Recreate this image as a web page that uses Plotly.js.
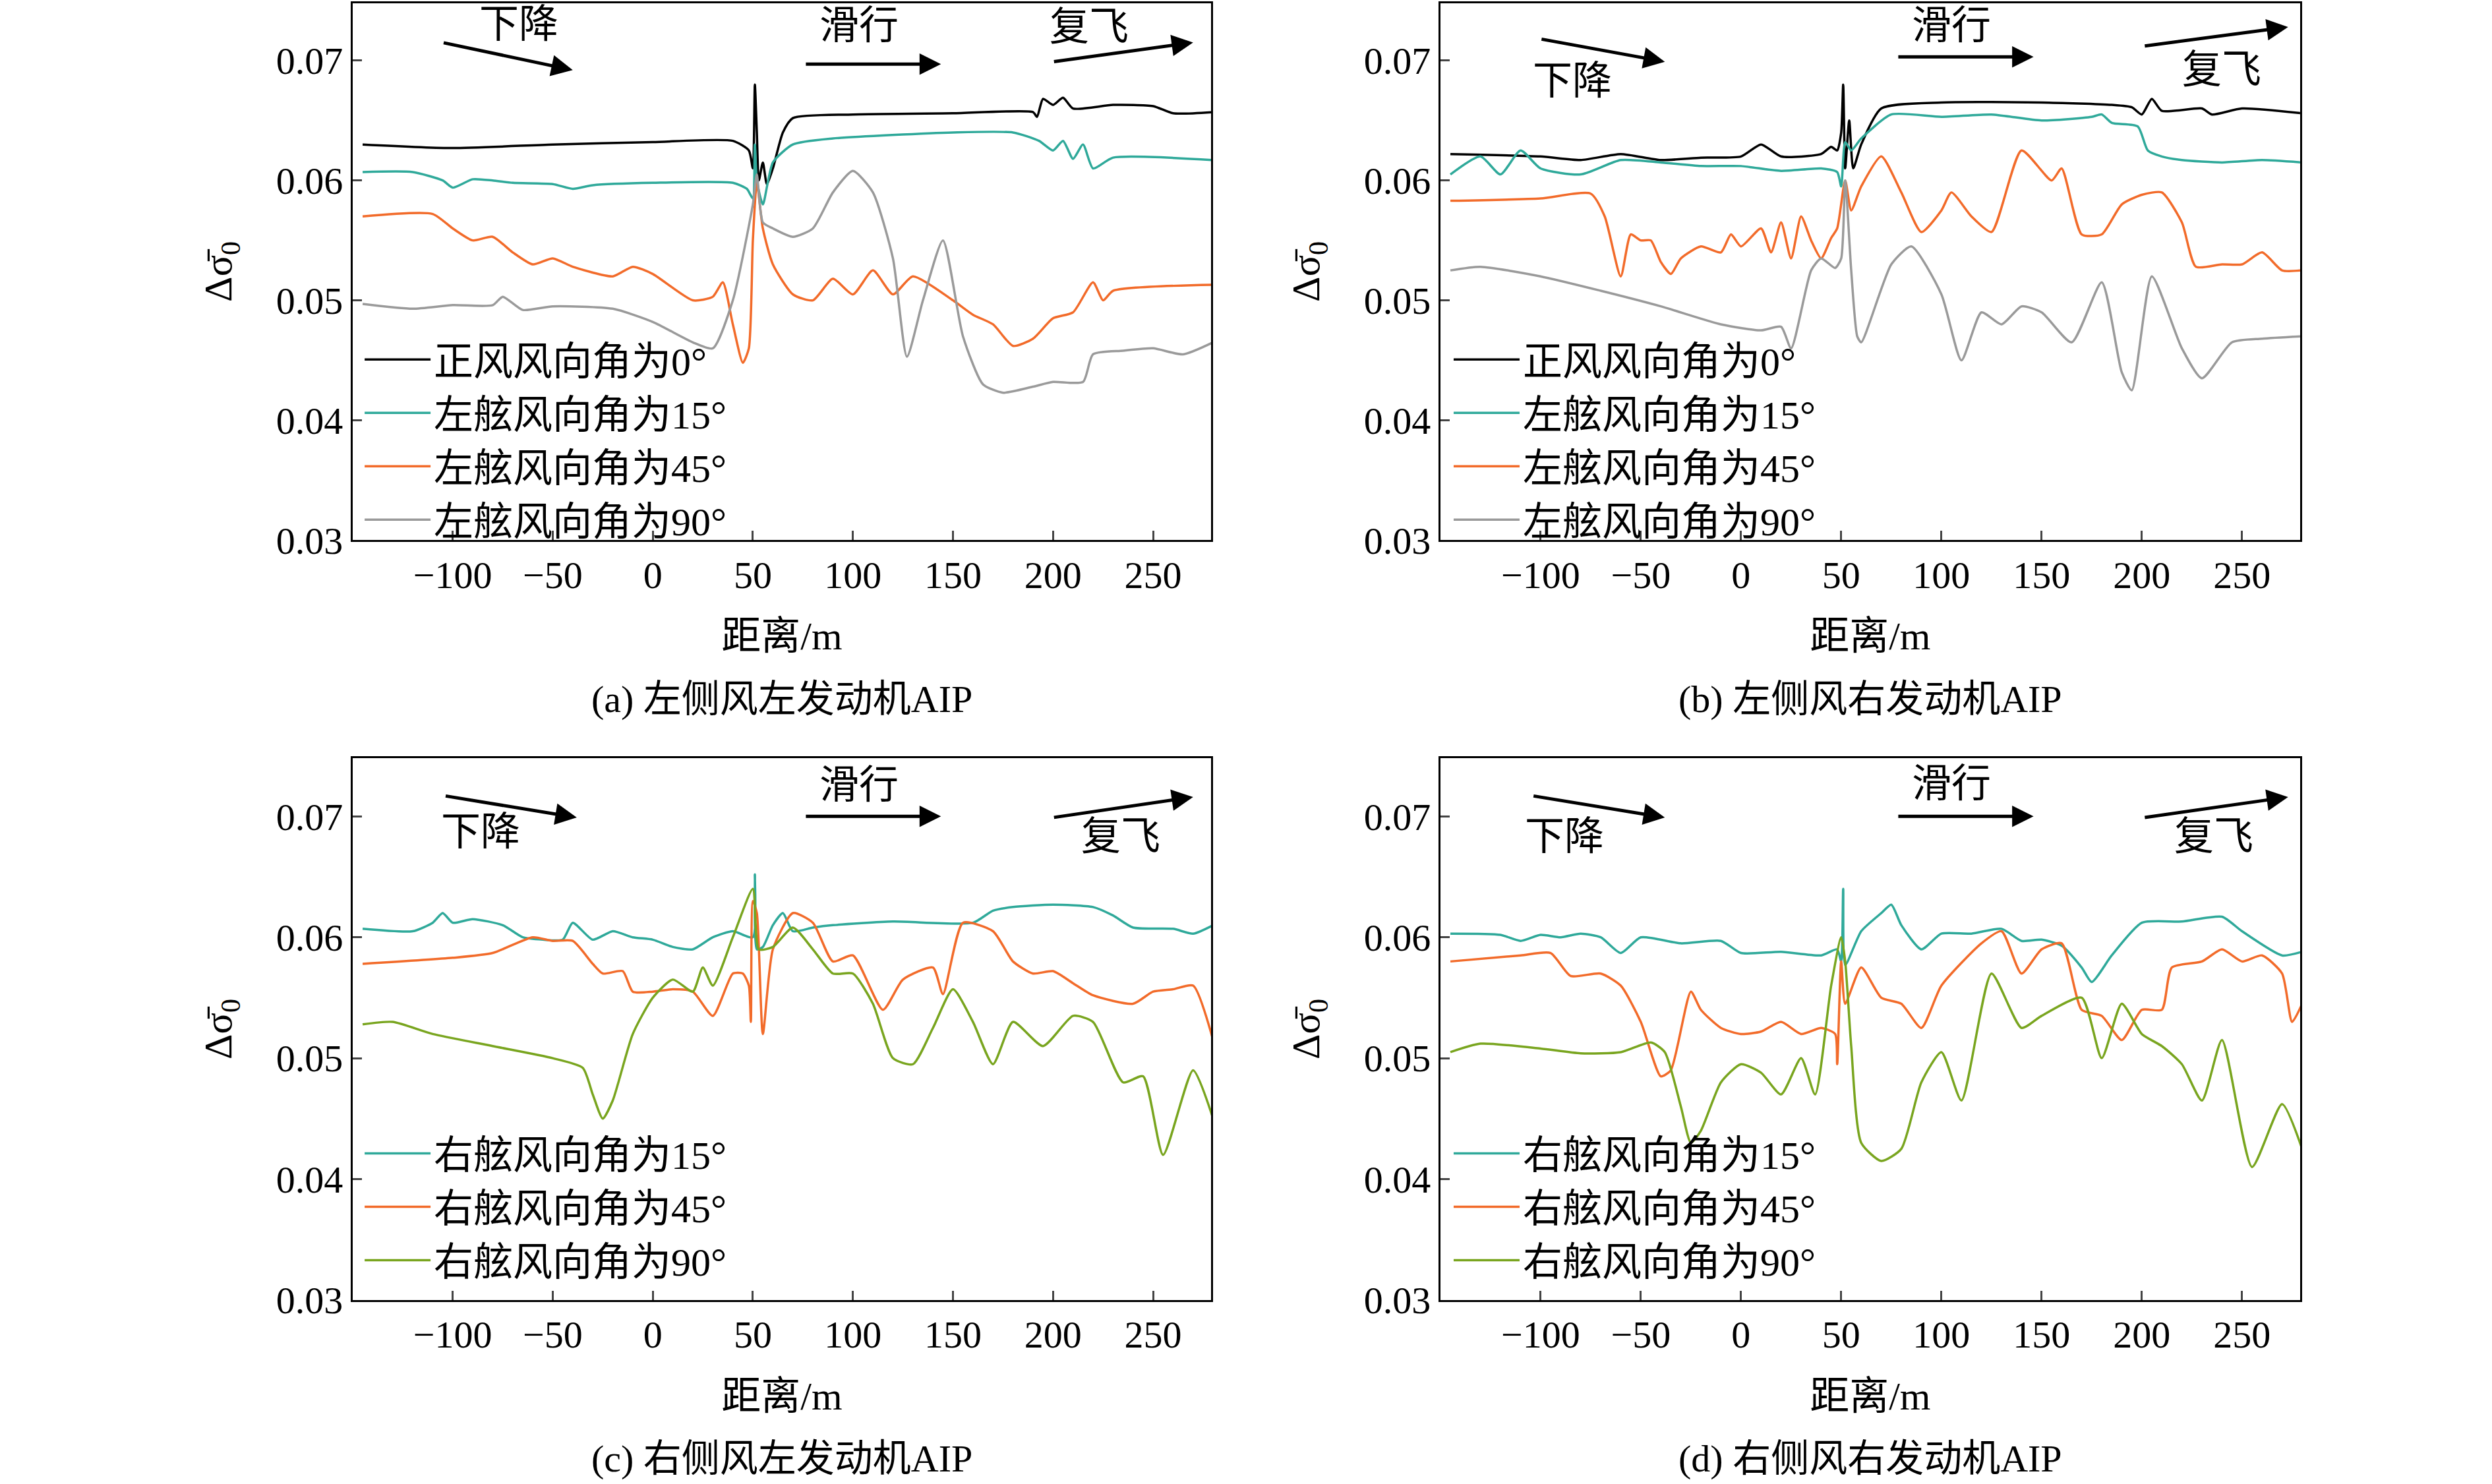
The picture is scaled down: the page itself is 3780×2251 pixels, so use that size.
<!DOCTYPE html>
<html>
<head>
<meta charset="utf-8">
<script src="https://cdn.plot.ly/plotly-3.0.1.min.js"></script>
<style>html,body{margin:0;padding:0;background:#fff}#plot{width:3780px;height:2251px}</style>
</head>
<body>
<div id="plot"></div>
<script>
// panel (a) left crosswind, left engine
const aBlackX = [-145,-100,-50,0,40,48,50,51,52,53,55,57,60,65,70,100,150,190,192,195,200,205,210,230,250,260,280];
const aBlackY = [0.0630,0.0627,0.0630,0.0632,0.0633,0.0625,0.0610,0.0680,0.0640,0.0600,0.0615,0.0597,0.0610,0.0640,0.0652,0.0655,0.0656,0.0657,0.0653,0.0668,0.0663,0.0669,0.0660,0.0663,0.0662,0.0656,0.0657];
const a15X = [-145,-120,-105,-100,-90,-80,-70,-50,-40,-30,0,40,47,50,51,52,55,60,70,90,150,180,193,200,205,210,215,220,230,280];
const a15Y = [0.0607,0.0607,0.0600,0.0594,0.0601,0.0600,0.0598,0.0597,0.0593,0.0596,0.0598,0.0598,0.0593,0.0585,0.0630,0.0600,0.0580,0.0615,0.0630,0.0635,0.0640,0.0640,0.0633,0.0625,0.0633,0.0618,0.0630,0.0610,0.0619,0.0617];
const a45X = [-145,-110,-100,-90,-80,-70,-60,-50,-40,-20,-10,0,20,30,35,40,45,48,50,52,55,60,70,80,90,100,110,120,130,150,160,170,180,190,200,210,220,225,230,280];
const a45Y = [0.0570,0.0572,0.0560,0.0550,0.0553,0.0540,0.0530,0.0535,0.0528,0.0520,0.0528,0.0522,0.0500,0.0503,0.0515,0.0480,0.0448,0.0460,0.0550,0.0598,0.0560,0.0530,0.0505,0.0500,0.0518,0.0505,0.0525,0.0505,0.0520,0.0500,0.0488,0.0480,0.0462,0.0468,0.0485,0.0490,0.0515,0.0500,0.0508,0.0513];
const a90X = [-145,-120,-100,-80,-75,-65,-50,-20,0,20,30,40,50,52,55,60,70,80,90,100,110,120,127,135,145,155,165,175,190,200,215,220,235,250,265,280];
const a90Y = [0.0497,0.0493,0.0496,0.0496,0.0503,0.0492,0.0495,0.0493,0.0482,0.0465,0.0460,0.0500,0.0580,0.0605,0.0565,0.0560,0.0553,0.0560,0.0590,0.0608,0.0590,0.0535,0.0453,0.0500,0.0550,0.0470,0.0430,0.0423,0.0428,0.0432,0.0432,0.0455,0.0458,0.0460,0.0455,0.0465];

// panel (b) left crosswind, right engine
const bBlackX = [-145,-100,-80,-60,-40,-20,0,10,20,40,45,48,50,51,52,54,56,60,70,100,150,185,195,200,205,210,230,235,250,280];
const bBlackY = [0.0622,0.0620,0.0617,0.0622,0.0617,0.0619,0.0620,0.0630,0.0620,0.0622,0.0628,0.0625,0.0640,0.0680,0.0610,0.0650,0.0610,0.0630,0.0660,0.0665,0.0665,0.0663,0.0661,0.0655,0.0668,0.0658,0.0660,0.0655,0.0660,0.0656];
const b15X = [-145,-130,-120,-110,-100,-80,-60,-40,-20,0,20,40,48,50,52,55,60,75,100,125,150,175,180,185,198,203,210,220,240,260,280];
const b15Y = [0.0605,0.0620,0.0605,0.0625,0.0610,0.0605,0.0617,0.0615,0.0612,0.0612,0.0608,0.0610,0.0607,0.0595,0.0632,0.0625,0.0635,0.0655,0.0653,0.0655,0.0650,0.0653,0.0655,0.0648,0.0645,0.0625,0.0620,0.0617,0.0615,0.0617,0.0615];
const b45X = [-145,-100,-75,-68,-60,-55,-50,-45,-40,-35,-30,-20,-10,-5,0,10,15,20,25,30,35,40,45,48,52,55,60,70,80,90,100,105,115,125,140,155,160,170,180,190,200,210,220,227,240,250,260,270,280];
const b45Y = [0.0583,0.0585,0.0589,0.0570,0.0520,0.0555,0.0550,0.0550,0.0532,0.0522,0.0535,0.0545,0.0540,0.0555,0.0545,0.0560,0.0540,0.0565,0.0535,0.0570,0.0550,0.0535,0.0552,0.0560,0.0600,0.0575,0.0595,0.0620,0.0590,0.0557,0.0575,0.0590,0.0570,0.0557,0.0625,0.0600,0.0610,0.0555,0.0555,0.0580,0.0588,0.0590,0.0565,0.0528,0.0530,0.0530,0.0540,0.0525,0.0525];
const b90X = [-145,-130,-100,-70,-40,-10,10,20,25,35,40,47,50,52,55,58,60,75,85,100,110,120,130,140,150,165,180,190,195,205,220,230,245,260,280];
const b90Y = [0.0525,0.0528,0.0520,0.0508,0.0495,0.0480,0.0475,0.0478,0.0460,0.0525,0.0535,0.0527,0.0535,0.0600,0.0525,0.0470,0.0465,0.0530,0.0545,0.0505,0.0450,0.0490,0.0480,0.0495,0.0490,0.0465,0.0515,0.0440,0.0425,0.0520,0.0460,0.0435,0.0465,0.0468,0.0470];

// panel (c) right crosswind, left engine
const c15X = [-145,-120,-110,-105,-100,-90,-75,-65,-55,-45,-40,-30,-20,-10,0,10,20,30,40,50,51,52,55,60,65,70,80,90,120,160,170,180,200,220,230,240,260,270,280];
const c15Y = [0.0607,0.0605,0.0612,0.0620,0.0612,0.0615,0.0610,0.0600,0.0598,0.0598,0.0612,0.0598,0.0605,0.0600,0.0598,0.0592,0.0590,0.0600,0.0605,0.0600,0.0652,0.0590,0.0592,0.0610,0.0620,0.0605,0.0608,0.0610,0.0613,0.0612,0.0622,0.0625,0.0627,0.0625,0.0618,0.0608,0.0607,0.0603,0.0610];
const c45X = [-145,-100,-80,-60,-50,-40,-30,-25,-15,-10,0,10,20,30,40,45,48,49,50,52,55,60,70,80,90,100,115,125,140,145,155,170,180,190,200,210,220,240,250,260,270,280];
const c45Y = [0.0578,0.0583,0.0587,0.0600,0.0597,0.0597,0.0578,0.0570,0.0572,0.0555,0.0555,0.0557,0.0555,0.0535,0.0570,0.0570,0.0560,0.0530,0.0630,0.0620,0.0520,0.0590,0.0620,0.0612,0.0580,0.0585,0.0540,0.0565,0.0575,0.0553,0.0612,0.0605,0.0580,0.0570,0.0572,0.0562,0.0552,0.0545,0.0555,0.0557,0.0560,0.0515];
const c90X = [-145,-130,-110,-80,-50,-35,-30,-25,-20,-10,0,10,20,25,30,40,50,53,60,70,80,90,100,110,120,130,140,150,160,170,180,195,210,220,235,245,255,270,280];
const c90Y = [0.0528,0.0530,0.0520,0.0510,0.0500,0.0492,0.0470,0.0450,0.0465,0.0520,0.0550,0.0565,0.0555,0.0575,0.0560,0.0600,0.0640,0.0590,0.0592,0.0608,0.0590,0.0570,0.0570,0.0545,0.0500,0.0495,0.0525,0.0557,0.0530,0.0495,0.0530,0.0510,0.0535,0.0530,0.0480,0.0485,0.0420,0.0490,0.0450];

// panel (d) right crosswind, right engine
const d15X = [-145,-120,-110,-100,-90,-80,-70,-60,-50,-30,-10,0,20,40,48,50,51,52,60,70,75,80,90,100,115,130,140,150,160,170,175,185,200,220,240,250,270,280];
const d15Y = [0.0603,0.0602,0.0597,0.0602,0.0600,0.0603,0.0600,0.0587,0.0600,0.0595,0.0597,0.0587,0.0588,0.0585,0.0590,0.0580,0.0640,0.0577,0.0605,0.0620,0.0627,0.0610,0.0590,0.0603,0.0603,0.0607,0.0597,0.0598,0.0593,0.0575,0.0563,0.0585,0.0612,0.0613,0.0617,0.0605,0.0585,0.0588];
const d45X = [-145,-110,-95,-85,-70,-60,-50,-40,-35,-25,-20,-10,0,10,20,30,40,47,48,50,52,60,70,80,90,100,120,130,140,150,160,170,180,190,200,210,215,230,240,250,260,270,275,280];
const d45Y = [0.0580,0.0585,0.0587,0.0568,0.0570,0.0560,0.0530,0.0485,0.0490,0.0555,0.0540,0.0525,0.0520,0.0522,0.0530,0.0520,0.0525,0.0520,0.0495,0.0580,0.0545,0.0575,0.0550,0.0545,0.0525,0.0560,0.0595,0.0605,0.0570,0.0590,0.0595,0.0540,0.0535,0.0515,0.0540,0.0540,0.0575,0.0580,0.0590,0.0580,0.0585,0.0570,0.0530,0.0545];
const d90X = [-145,-130,-100,-80,-60,-45,-38,-30,-25,-20,-10,0,10,20,30,37,45,50,52,55,60,70,80,90,100,110,125,140,150,170,180,190,200,210,220,230,240,255,270,280];
const d90Y = [0.0505,0.0512,0.0508,0.0504,0.0505,0.0513,0.0505,0.0460,0.0430,0.0440,0.0480,0.0495,0.0488,0.0470,0.0500,0.0470,0.0560,0.0600,0.0580,0.0510,0.0430,0.0415,0.0425,0.0480,0.0505,0.0465,0.0570,0.0525,0.0535,0.0550,0.0500,0.0545,0.0520,0.0510,0.0495,0.0465,0.0515,0.0410,0.0462,0.0425];

const xTicks = [-100,-50,0,50,100,150,200,250];
const yTicks = [0.03,0.04,0.05,0.06,0.07];
const captions = ['(a) 左侧风左发动机AIP','(b) 左侧风右发动机AIP','(c) 右侧风左发动机AIP','(d) 右侧风右发动机AIP'];
const leftNames = ['正风风向角为0°','左舷风向角为15°','左舷风向角为45°','左舷风向角为90°'];
const rightNames = ['右舷风向角为15°','右舷风向角为45°','右舷风向角为90°'];

const FONT = 'Liberation Serif, Noto Sans CJK SC, serif';
const BLACK = '#000000', TEAL = '#2fa99a', ORANGE = '#f26b2a', GRAY = '#9a9a9a', OLIVE = '#79a51f';

function line(x, y, name, color, ax, leg) {
    return {
        x: x, y: y, name: name, type: 'scatter', mode: 'lines',
        line: { color: color, width: 3.5, shape: 'spline', smoothing: 0.6 },
        xaxis: 'x' + ax, yaxis: 'y' + ax, legend: leg
    };
}

const traces = [
    line(aBlackX, aBlackY, leftNames[0], BLACK, '', 'legend'),
    line(a15X, a15Y, leftNames[1], TEAL, '', 'legend'),
    line(a45X, a45Y, leftNames[2], ORANGE, '', 'legend'),
    line(a90X, a90Y, leftNames[3], GRAY, '', 'legend'),
    line(bBlackX, bBlackY, leftNames[0], BLACK, '2', 'legend2'),
    line(b15X, b15Y, leftNames[1], TEAL, '2', 'legend2'),
    line(b45X, b45Y, leftNames[2], ORANGE, '2', 'legend2'),
    line(b90X, b90Y, leftNames[3], GRAY, '2', 'legend2'),
    line(c15X, c15Y, rightNames[0], TEAL, '3', 'legend3'),
    line(c45X, c45Y, rightNames[1], ORANGE, '3', 'legend3'),
    line(c90X, c90Y, rightNames[2], OLIVE, '3', 'legend3'),
    line(d15X, d15Y, rightNames[0], TEAL, '4', 'legend4'),
    line(d45X, d45Y, rightNames[1], ORANGE, '4', 'legend4'),
    line(d90X, d90Y, rightNames[2], OLIVE, '4', 'legend4')
];

// plot area domains in paper coords
const xDom = [[0.1415, 0.486], [0.578, 0.923]];
const yDom = [[0.636, 0.998], [0.124, 0.489]];

function xAxis(dom, anchor) {
    return {
        domain: dom, anchor: anchor, range: [-150, 279], tickvals: xTicks,
        ticks: 'inside', ticklen: 14, tickwidth: 3, showgrid: false, zeroline: false,
        showline: true, mirror: true, linewidth: 3, linecolor: '#000',
        tickfont: { family: FONT, size: 58, color: '#000' },
        title: { text: '距离/m', standoff: 40, font: { family: FONT, size: 60, color: '#000' } }
    };
}
function yAxis(dom, anchor) {
    return {
        domain: dom, anchor: anchor, range: [0.03, 0.0748], tickvals: yTicks, tickformat: '.2f',
        ticks: 'inside', ticklen: 14, tickwidth: 3, showgrid: false, zeroline: false,
        showline: true, mirror: true, linewidth: 3, linecolor: '#000',
        tickfont: { family: FONT, size: 58, color: '#000' },
        title: { text: 'Δσ̄<sub>0</sub>', standoff: 48, font: { family: FONT, size: 60, color: '#000' } }
    };
}
function legend(x, y) {
    return {
        x: x, y: y, xanchor: 'left', yanchor: 'top', bgcolor: 'rgba(0,0,0,0)', itemwidth: 100,
        font: { family: FONT, size: 60, color: '#000' }
    };
}

const annotations = [];
const centers = [];
[0, 1].forEach(r => [0, 1].forEach(c => centers.push([xDom[c], yDom[r]])));
centers.forEach((d, i) => {
    const mx = (d[0][0] + d[0][1]) / 2;
    annotations.push({ xref: 'paper', yref: 'paper', x: mx, y: d[1][0] - 0.107, xanchor: 'center', yanchor: 'middle',
        text: captions[i], showarrow: false, font: { family: FONT, size: 58, color: '#000' } });
});

// phase labels and arrows: [axis, text, text x, text y, arrow tail x, tail y, head x, head y]
const phases = [
    ['', '下降', -67, 0.0730, -105, 0.0715, -40, 0.0692],
    ['', '滑行', 103, 0.0729, 76, 0.0697, 144, 0.0697],
    ['', '复飞', 218, 0.0728, 200, 0.0699, 270, 0.0715],
    ['2', '下降', -84, 0.0683, -100, 0.0718, -38, 0.0699],
    ['2', '滑行', 105, 0.0729, 78, 0.0703, 146, 0.0703],
    ['2', '复飞', 240, 0.0692, 201, 0.0712, 273, 0.0728],
    ['3', '下降', -86, 0.0687, -104, 0.0717, -38, 0.0699],
    ['3', '滑行', 103, 0.0726, 76, 0.0700, 144, 0.0700],
    ['3', '复飞', 234, 0.0683, 200, 0.0699, 270, 0.0716],
    ['4', '下降', -88, 0.0683, -104, 0.0717, -38, 0.0699],
    ['4', '滑行', 105, 0.0727, 78, 0.0700, 146, 0.0700],
    ['4', '复飞', 236, 0.0683, 201, 0.0699, 273, 0.0716]
];
phases.forEach(p => {
    annotations.push({ xref: 'x' + p[0], yref: 'y' + p[0], x: p[2], y: p[3], text: p[1], showarrow: false,
        font: { family: FONT, size: 60, color: '#000' } });
    annotations.push({ xref: 'x' + p[0], yref: 'y' + p[0], axref: 'x' + p[0], ayref: 'y' + p[0],
        x: p[6], y: p[7], ax: p[4], ay: p[5], text: '', showarrow: true,
        arrowhead: 2, arrowsize: 1.3, arrowwidth: 5, arrowcolor: '#000' });
});

const layout = {
    width: 3780, height: 2251, margin: { l: 0, r: 0, t: 0, b: 0 },
    paper_bgcolor: '#fff', plot_bgcolor: '#fff', showlegend: true,
    xaxis: xAxis(xDom[0], 'y'), yaxis: yAxis(yDom[0], 'x'),
    xaxis2: xAxis(xDom[1], 'y2'), yaxis2: yAxis(yDom[0], 'x2'),
    xaxis3: xAxis(xDom[0], 'y3'), yaxis3: yAxis(yDom[1], 'x3'),
    xaxis4: xAxis(xDom[1], 'y4'), yaxis4: yAxis(yDom[1], 'x4'),
    legend: legend(0.145, 0.778), legend2: legend(0.582, 0.778),
    legend3: legend(0.145, 0.243), legend4: legend(0.582, 0.243),
    annotations: annotations
};

Plotly.newPlot('plot', traces, layout, { staticPlot: true });
</script>
</body>
</html>
